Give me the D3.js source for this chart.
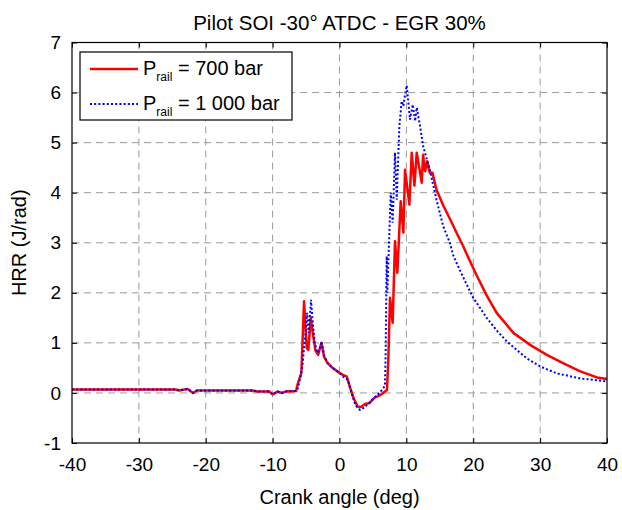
<!DOCTYPE html>
<html>
<head>
<meta charset="utf-8">
<script src="https://cdn.jsdelivr.net/npm/d3@7"></script>
<style>
  body { margin: 0; background: #fff; }
  svg { font-family: "Liberation Sans", Arial, sans-serif; }
</style>
</head>
<body>
<div id="plot"></div>
<script>
// Crank angle (deg) / heat release rate (J/rad)
var angle700 = [-40, -24.5, -24, -22.7, -21.9, -21.3, -13, -12.3, -10.5, -10, -9.3, -8.6, -8, -6.5, -6.2, -5.7, -5.3, -4.9, -4.66, -4.3, -4.0, -3.6, -3.2, -2.7, -2.3, -1.8, -1.2, -0.5, 0, 0.5, 1.07, 1.6, 2.1, 2.7, 3.2, 3.8, 4.5, 5.2, 6, 7.1, 7.3, 7.55, 7.95, 8.3, 8.65, 9.15, 9.55, 9.8, 10.45, 10.8, 11.2, 11.55, 12.3, 12.5, 12.8, 13.1, 13.5, 13.9, 14.5, 15.5, 16.5, 17.5, 18.5, 19, 20.5, 22, 23.5, 26, 28.5, 31, 33.5, 36, 38.5, 40];
var hrr700 = [0.07, 0.07, 0.05, 0.08, 0.0, 0.05, 0.05, 0.03, 0.03, -0.03, 0.03, 0.0, 0.03, 0.04, 0.2, 0.4, 1.83, 0.9, 0.86, 1.5, 1.2, 0.85, 0.76, 1.0, 0.72, 0.6, 0.52, 0.45, 0.4, 0.36, 0.33, 0.1, -0.1, -0.27, -0.28, -0.22, -0.2, -0.1, -0.05, 0.06, 0.66, 1.9, 1.4, 3.03, 2.4, 3.83, 3.2, 4.46, 3.76, 4.8, 4.14, 4.8, 4.2, 4.76, 4.43, 4.63, 4.4, 4.4, 4.06, 3.75, 3.48, 3.2, 2.93, 2.78, 2.35, 1.95, 1.6, 1.2, 0.96, 0.76, 0.59, 0.43, 0.31, 0.28];

var angle1000 = [-40, -24.5, -24, -22.7, -21.9, -21.3, -13, -12.3, -10.5, -10, -9.3, -8.6, -8, -6.5, -6.2, -5.8, -5.5, -5.3, -5.0, -4.85, -4.6, -4.26, -4.0, -3.7, -3.3, -3.0, -2.7, -2.3, -1.8, -1.2, -0.5, 0, 0.6, 1.27, 1.8, 2.4, 3.07, 3.6, 4.3, 5, 5.8, 6.5, 6.8, 6.9, 7.06, 7.15, 7.66, 7.95, 8.3, 8.56, 8.95, 9.3, 9.55, 9.8, 10.05, 10.3, 10.54, 10.95, 11.3, 11.55, 12.05, 12.5, 13.5, 14.5, 15.5, 16.5, 17, 18, 19, 20, 21, 22, 23.5, 25, 28, 30, 32.5, 36, 40];
var hrr1000 = [0.07, 0.07, 0.05, 0.08, 0.0, 0.05, 0.05, 0.03, 0.03, -0.03, 0.03, 0.0, 0.03, 0.04, 0.1, 0.35, 0.6, 0.9, 1.3, 1.6, 1.2, 1.86, 1.4, 1.0, 0.8, 0.85, 1.03, 0.75, 0.6, 0.52, 0.45, 0.4, 0.32, 0.26, 0.0, -0.25, -0.34, -0.3, -0.22, -0.12, -0.02, 0.08, 0.15, 0.8, 2.73, 2.0, 4.0, 3.4, 4.8, 3.86, 5.33, 5.83, 5.73, 5.96, 6.14, 5.8, 5.46, 5.76, 5.43, 5.7, 5.33, 4.93, 4.46, 3.86, 3.33, 3.0, 2.75, 2.45, 2.17, 1.9, 1.7, 1.5, 1.25, 1.03, 0.69, 0.53, 0.39, 0.29, 0.23];

var xTicks = [-40, -30, -20, -10, 0, 10, 20, 30, 40];
var yTicks = [-1, 0, 1, 2, 3, 4, 5, 6, 7];

var margin = {top: 42.5, right: 15, bottom: 67, left: 72};
var width = 622 - margin.left - margin.right;
var height = 510 - margin.top - margin.bottom;

var svg = d3.select("div#plot").append("svg")
    .attr("width", 622)
    .attr("height", 510);
var g = svg.append("g")
    .attr("transform", "translate(" + margin.left + "," + margin.top + ")");

var x = d3.scaleLinear().domain([-40, 40]).range([0, width]);
var y = d3.scaleLinear().domain([-1, 7]).range([height, 0]);

// grid
g.append("g").selectAll("line")
    .data(xTicks.slice(1, -1))
    .enter().append("line")
    .attr("x1", d => x(d)).attr("x2", d => x(d))
    .attr("y1", 0).attr("y2", height)
    .attr("stroke", "#999").attr("stroke-width", 1)
    .attr("stroke-dasharray", "7,5");
g.append("g").selectAll("line")
    .data(yTicks.slice(1, -1))
    .enter().append("line")
    .attr("x1", 0).attr("x2", width)
    .attr("y1", d => y(d)).attr("y2", d => y(d))
    .attr("stroke", "#999").attr("stroke-width", 1)
    .attr("stroke-dasharray", "7,5");

// axes (box with inward ticks), plain hyphen for negatives
var plain = d => String(d);
function styleAxis(sel) {
  sel.select(".domain").remove();
  sel.selectAll(".tick line").attr("stroke", "#000");
  sel.selectAll(".tick text").attr("fill", "#000").style("font-size", "19px");
}
g.append("g")
    .attr("transform", "translate(0," + height + ")")
    .call(d3.axisBottom(x).tickValues(xTicks).tickFormat(plain).tickSizeInner(-5).tickSizeOuter(0).tickPadding(15))
    .call(styleAxis);
g.append("g")
    .call(d3.axisTop(x).tickValues(xTicks).tickSizeInner(-5).tickSizeOuter(0).tickFormat(""))
    .call(styleAxis);
g.append("g")
    .call(d3.axisLeft(y).tickValues(yTicks).tickFormat(plain).tickSizeInner(-5).tickSizeOuter(0).tickPadding(11))
    .call(styleAxis);
g.append("g")
    .attr("transform", "translate(" + width + ",0)")
    .call(d3.axisRight(y).tickValues(yTicks).tickSizeInner(-5).tickSizeOuter(0).tickFormat(""))
    .call(styleAxis);

// lines
var line = d3.line().x(d => x(d[0])).y(d => y(d[1]));
var red = d3.zip(angle700, hrr700);
var blue = d3.zip(angle1000, hrr1000);

g.append("path").datum(red)
    .attr("d", line).attr("fill", "none")
    .attr("stroke", "#ff0000").attr("stroke-width", 2.5)
    .attr("stroke-linejoin", "round");
g.append("path").datum(blue)
    .attr("d", line).attr("fill", "none")
    .attr("stroke", "#0000ff").attr("stroke-width", 2)
    .attr("stroke-dasharray", "2,2.2");

g.append("rect")
    .attr("width", width).attr("height", height)
    .attr("fill", "none").attr("stroke", "#000").attr("stroke-width", 1.2);

// legend
var legend = svg.append("g").attr("transform", "translate(80,52)");
legend.append("rect")
    .attr("width", 212).attr("height", 68)
    .attr("fill", "#fff").attr("stroke", "#000").attr("stroke-width", 1.2);

var entries = [
  {label: " = 700 bar", color: "#ff0000", dash: null, w: 2.5},
  {label: " = 1 000 bar", color: "#0000ff", dash: "2,2.2", w: 2}
];
var item = legend.selectAll(".legend")
    .data(entries)
    .enter().append("g")
    .attr("class", "legend")
    .attr("transform", (d, i) => "translate(0," + (17 + i * 35) + ")");
item.append("line")
    .attr("x1", 10).attr("x2", 58)
    .attr("stroke", d => d.color)
    .attr("stroke-width", d => d.w)
    .attr("stroke-dasharray", d => d.dash);
var txt = item.append("text")
    .attr("x", 63).attr("y", 6)
    .style("font-size", "20px");
txt.append("tspan").text("P");
txt.append("tspan").attr("dy", 6).style("font-size", "12px").text("rail");
txt.append("tspan").attr("dy", -6).text(d => d.label);

// title and axis labels
svg.append("text")
    .attr("x", margin.left + width / 2).attr("y", 30)
    .attr("text-anchor", "middle")
    .style("font-size", "20.5px")
    .text("Pilot SOI -30° ATDC - EGR 30%");
svg.append("text")
    .attr("x", margin.left + width / 2).attr("y", 504)
    .attr("text-anchor", "middle")
    .style("font-size", "20px")
    .text("Crank angle (deg)");
svg.append("text")
    .attr("transform", "translate(26," + (margin.top + height / 2) + ") rotate(-90)")
    .attr("text-anchor", "middle")
    .style("font-size", "20px")
    .text("HRR (J/rad)");
</script>
</body>
</html>
